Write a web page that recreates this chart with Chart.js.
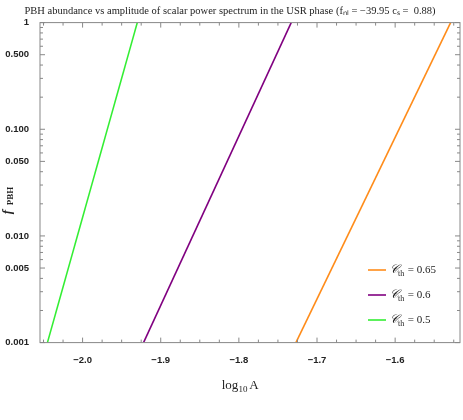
<!DOCTYPE html>
<html lang="en">
<head>
  <meta charset="UTF-8">
  <title>PBH abundance</title>
  <script src="https://cdn.jsdelivr.net/npm/chart.js"></script>
  <style>
    body { margin: 0; background: #fff; }
    #wrap { width: 463px; height: 420px; }
  </style>
</head>
<body>
  <div id="wrap"><canvas id="c"></canvas></div>
  <script>
    // Line endpoints (log10A, fPBH)
    const greenX = [-2.045, -1.930];
    const purpleX = [-1.922, -1.733];
    const orangeX = [-1.727, -1.529];
    const fPBH = [0.001, 1];
    const xTicks = [-2.0, -1.9, -1.8, -1.7, -1.6];
    const yTicks = [0.001, 0.005, 0.01, 0.05, 0.1, 0.5, 1];
    const yLabels = { 0.001: "0.001", 0.005: "0.005", 0.01: "0.010", 0.05: "0.050", 0.1: "0.100", 0.5: "0.500", 1: "1" };
    const legendItems = [
      { label: "0.65", color: "#ff8c1a" },
      { label: "0.6", color: "#800080" },
      { label: "0.5", color: "#33ee33" }
    ];

    const mk = (xs, color) => ({
      data: xs.map((x, i) => ({ x: x, y: fPBH[i] })),
      borderColor: color, borderWidth: 1.6, pointRadius: 0, fill: false
    });

    const decor = {
      id: "decor",
      afterDraw(chart) {
        const { ctx, chartArea: a, scales: { x, y } } = chart;
        ctx.save();
        ctx.strokeStyle = "#888"; ctx.lineWidth = 1;
        ctx.strokeRect(a.left, a.top, a.right - a.left, a.bottom - a.top);
        // ticks on all four sides
        ctx.beginPath();
        for (let v = -2.05; v <= -1.52; v += 0.025) {
          const px = x.getPixelForValue(v);
          const major = Math.abs(Math.round(v * 10) - v * 10) < 0.01;
          const L = major ? 5 : 3;
          ctx.moveTo(px, a.bottom); ctx.lineTo(px, a.bottom - L);
          ctx.moveTo(px, a.top); ctx.lineTo(px, a.top + L);
        }
        for (let d = 0.001; d < 1.5; d *= 10) {
          for (let k = 1; k <= 9; k++) {
            const v = d * k; if (v > 1.0001) break;
            const py = y.getPixelForValue(v);
            const L = (k === 1 || k === 5) ? 5 : 3;
            ctx.moveTo(a.left, py); ctx.lineTo(a.left + L, py);
            ctx.moveTo(a.right, py); ctx.lineTo(a.right - L, py);
          }
        }
        ctx.stroke();
        // legend
        ctx.textBaseline = "middle";
        legendItems.forEach((it, i) => {
          const yy = 270 + i * 25;
          ctx.strokeStyle = it.color; ctx.lineWidth = 1.6;
          ctx.beginPath(); ctx.moveTo(368, yy); ctx.lineTo(386, yy); ctx.stroke();
          ctx.fillStyle = "#222";
          ctx.font = "italic 12px 'Liberation Serif'";
          ctx.fillText("\uD835\uDC9E", 390, yy);
          ctx.font = "8px 'Liberation Serif'";
          ctx.fillText("th", 398, yy + 4);
          ctx.font = "11px 'Liberation Serif'";
          ctx.fillText(" = " + it.label, 405, yy);
        });
        // y-axis title
        ctx.save();
        ctx.translate(8, 200); ctx.rotate(-Math.PI / 2);
        ctx.textAlign = "center";
        ctx.font = "bold italic 13px 'Liberation Serif'";
        ctx.fillText("f", -12, 0);
        ctx.font = "bold 9px 'Liberation Serif'";
        ctx.fillText("PBH", 4, 3);
        ctx.restore();
        // x-axis title
        ctx.textAlign = "center";
        ctx.font = "13px 'Liberation Serif'";
        ctx.fillText("log", 230, 386);
        ctx.font = "9px 'Liberation Serif'";
        ctx.fillText("10", 243, 390);
        ctx.font = "13px 'Liberation Serif'";
        ctx.fillText("A", 254, 386);
        ctx.restore();
      }
    };

    new Chart(document.getElementById("c"), {
      type: "scatter",
      data: { datasets: [mk(greenX, "#33ee33"), mk(purpleX, "#800080"), mk(orangeX, "#ff8c1a")] },
      options: {
        responsive: true, maintainAspectRatio: false, animation: false,
        showLine: true,
        layout: { padding: { top: 2, right: 3, left: 0, bottom: 50 } },
        plugins: {
          legend: { display: false }, tooltip: { enabled: false },
          title: {
            display: true, color: "#222",
            text: "PBH abundance vs amplitude of scalar power spectrum in the USR phase (f\u2099\u2097 = \u221239.95 c\u209B =  0.88)",
            font: { family: "'Liberation Serif'", size: 10.5, weight: "normal" }, padding: { top: 3, bottom: 5 }
          }
        },
        scales: {
          x: {
            type: "linear", min: -2.0545, max: -1.517,
            grid: { display: false }, border: { display: false },
            afterBuildTicks: s => { s.ticks = xTicks.map(v => ({ value: v })); },
            ticks: { color: "#222", font: { family: "'Liberation Sans'", size: 9.5, weight: "bold" },
              callback: v => "\u2212" + Math.abs(v).toFixed(1), padding: 4 }
          },
          y: {
            type: "logarithmic", min: 0.001, max: 1,
            grid: { display: false }, border: { display: false },
            afterBuildTicks: s => { s.ticks = yTicks.map(v => ({ value: v })); },
            afterFit: s => { s.width = 40; },
            ticks: { color: "#222", font: { family: "'Liberation Sans'", size: 9.5, weight: "bold" },
              callback: v => yLabels[v], padding: 3 }
          }
        }
      },
      plugins: [decor]
    });
  </script>
</body>
</html>
